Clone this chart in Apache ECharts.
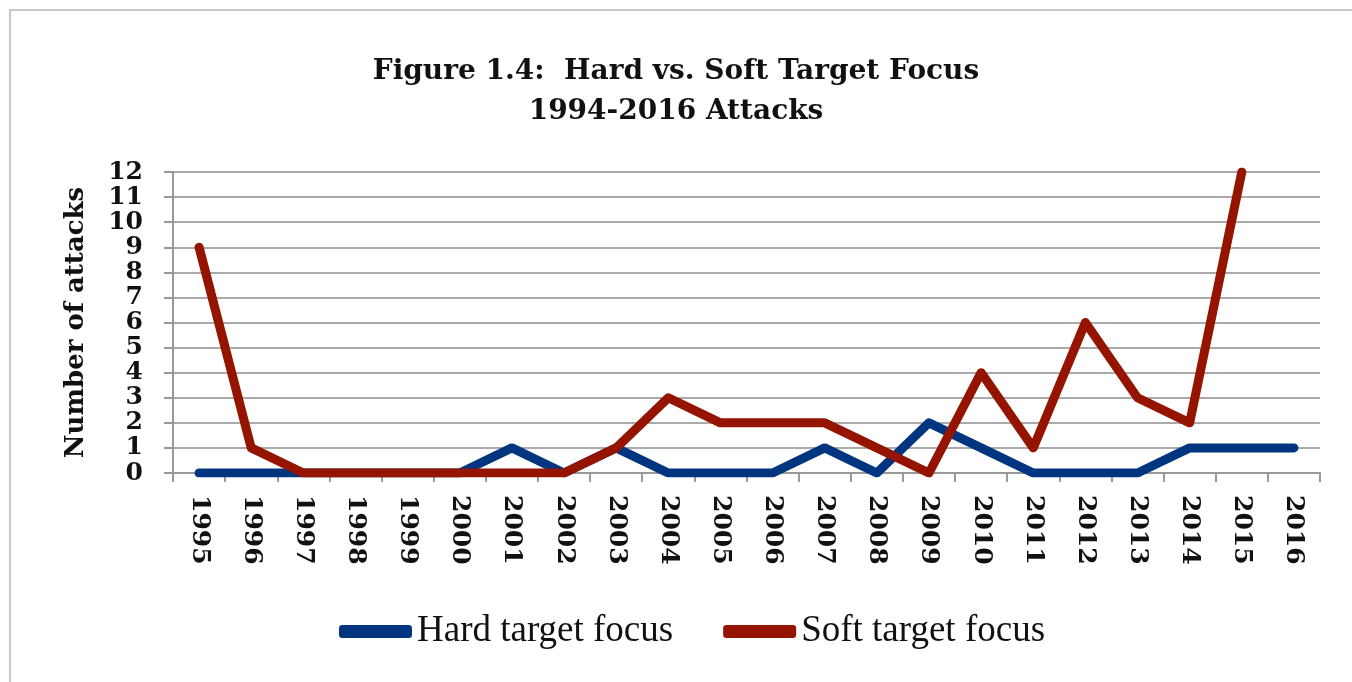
<!DOCTYPE html>
<html><head><meta charset="utf-8">
<script src="https://cdn.jsdelivr.net/npm/echarts@6/dist/echarts.min.js"></script>
<style>html,body{margin:0;padding:0;background:#fff}#c{width:1352px;height:682px}</style>
</head><body><div id="c"></div>
<script>
const years = ['1995','1996','1997','1998','1999','2000','2001','2002','2003','2004','2005','2006','2007','2008','2009','2010','2011','2012','2013','2014','2015','2016'];
const hardTarget = [0,0,0,0,0,0,1,0,1,0,0,0,1,0,2,1,0,0,0,1,1,1];
const softTarget = [9,1,0,0,0,0,0,0,1,3,2,2,2,1,0,4,1,6,3,2,12,null];
const yTicks = [0,1,2,3,4,5,6,7,8,9,10,11,12];

const boldSerif = '"DejaVu Serif","Liberation Serif",serif';
const serif = '"Liberation Serif","DejaVu Serif",serif';
const chart = echarts.init(document.getElementById('c'));
chart.setOption({
  animation: false,
  graphic: [{type:'rect', shape:{x:10,y:10,width:1360,height:700}, style:{fill:'none', stroke:'#c8c8c8', lineWidth:2}, silent:true}],
  title: {
    text: 'Figure 1.4:  Hard vs. Soft Target Focus\n1994-2016 Attacks',
    left: 'center', top: 47,
    textStyle: {fontFamily: boldSerif, fontWeight: 'bold', fontSize: 28, lineHeight: 40, color: '#111'}
  },
  legend: {
    top: 608, left: 334, itemGap: 50, itemWidth: 73, itemHeight: 13, icon: 'roundRect',
    textStyle: {fontFamily: serif, fontSize: 37, color: '#111'},
    data: ['Hard target focus','Soft target focus']
  },
  grid: {left: 173, right: 32, top: 172, bottom: 209},
  xAxis: {
    type: 'category', data: years, boundaryGap: true,
    axisLine: {lineStyle: {color: '#999', width: 2}},
    axisTick: {show: true, alignWithLabel: false, length: 9, lineStyle: {color: '#999', width: 2}},
    axisLabel: {rotate: -90, fontFamily: boldSerif, fontWeight: 'bold', fontSize: 25, color: '#111', margin: 22}
  },
  yAxis: {
    type: 'value', min: 0, max: 12, interval: 1,
    name: 'Number of attacks', nameLocation: 'middle', nameGap: 84,
    nameTextStyle: {fontFamily: boldSerif, fontWeight: 'bold', fontSize: 26, color: '#111'},
    axisLine: {show: true, lineStyle: {color: '#999', width: 2}},
    axisTick: {show: true, length: 9, lineStyle: {color: '#999', width: 2}},
    axisLabel: {fontFamily: boldSerif, fontWeight: 'bold', fontSize: 25, color: '#111', margin: 30,
      formatter: v => yTicks.includes(v) ? String(v) : ''},
    splitLine: {lineStyle: {color: '#aaa', width: 2}}
  },
  series: [
    {name: 'Hard target focus', type: 'line', data: hardTarget, symbol: 'none', color: '#013580',
     lineStyle: {width: 9, color: '#013580', cap: 'round', join: 'round'}, itemStyle: {color: '#013580'}},
    {name: 'Soft target focus', type: 'line', data: softTarget, symbol: 'none', color: '#941400',
     lineStyle: {width: 9, color: '#941400', cap: 'round', join: 'round'}, itemStyle: {color: '#941400'}}
  ]
});
</script></body></html>
